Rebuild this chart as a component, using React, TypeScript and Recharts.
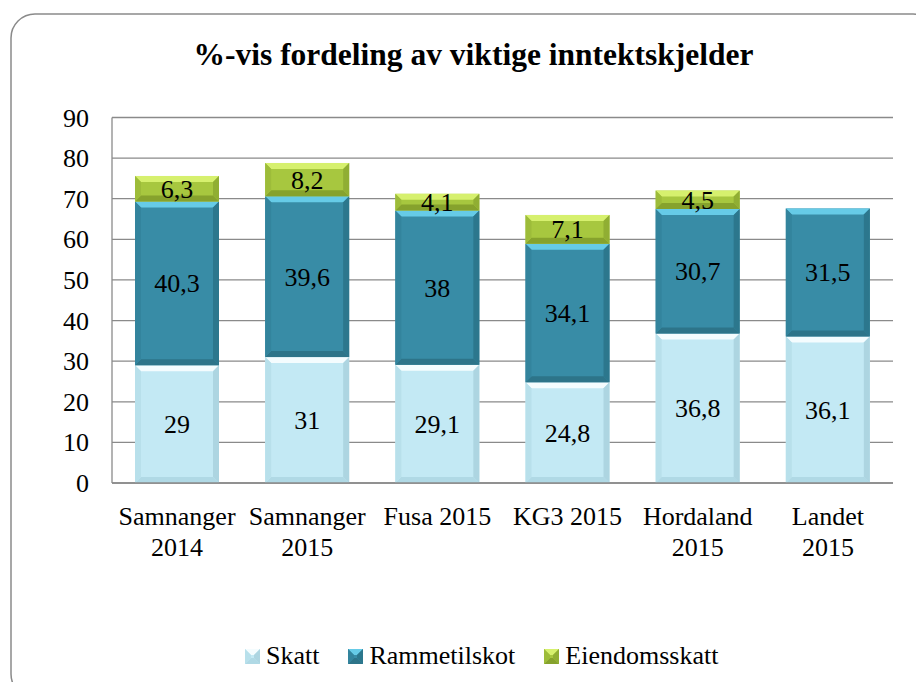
import React from 'react';
import { BarChart, Bar, XAxis, YAxis, CartesianGrid, LabelList } from 'recharts';

const categories = ['Samnanger 2014', 'Samnanger 2015', 'Fusa 2015', 'KG3 2015', 'Hordaland 2015', 'Landet 2015'];
const skatt = [29, 31, 29.1, 24.8, 36.8, 36.1];
const rammetilskot = [40.3, 39.6, 38, 34.1, 30.7, 31.5];
const eiendomsskatt: (number | null)[] = [6.3, 8.2, 4.1, 7.1, 4.5, null];
const yTicks = [0, 10, 20, 30, 40, 50, 60, 70, 80, 90];
const title = '%-vis fordeling av viktige inntektskjelder';

const data = categories.map((c, i) => ({
  name: c,
  skatt: skatt[i],
  rammetilskot: rammetilskot[i],
  eiendomsskatt: eiendomsskatt[i],
}));

type Pal = { base: string; top: string; bottom: string; left: string; right: string };
const series: { key: string; label: string; pal: Pal }[] = [
  { key: 'skatt', label: 'Skatt', pal: { base: '#C3E9F4', top: '#F4FCFE', bottom: '#B0D9E5', left: '#B8E0EB', right: '#ADD5E1' } },
  { key: 'rammetilskot', label: 'Rammetilskot', pal: { base: '#388CA6', top: '#66CBE7', bottom: '#2D7489', left: '#33849D', right: '#2C778D' } },
  { key: 'eiendomsskatt', label: 'Eiendomsskatt', pal: { base: '#A7C73F', top: '#D6F06E', bottom: '#86A22D', left: '#9DBC3A', right: '#90AE33' } },
];

const FONT = '"Liberation Serif", "Times New Roman", serif';

const BevelRect = ({ x, y, width, height, pal }: any) => {
  if (!height || height <= 0 || !width) return null;
  const b = Math.min(6, height / 2, width / 2);
  const x2 = x + width;
  const y2 = y + height;
  return (
    <g>
      <rect x={x} y={y} width={width} height={height} fill={pal.base} />
      <polygon points={`${x},${y} ${x2},${y} ${x2 - b},${y + b} ${x + b},${y + b}`} fill={pal.top} />
      <polygon points={`${x},${y2} ${x2},${y2} ${x2 - b},${y2 - b} ${x + b},${y2 - b}`} fill={pal.bottom} />
      <polygon points={`${x},${y} ${x + b},${y + b} ${x + b},${y2 - b} ${x},${y2}`} fill={pal.left} />
      <polygon points={`${x2},${y} ${x2 - b},${y + b} ${x2 - b},${y2 - b} ${x2},${y2}`} fill={pal.right} />
    </g>
  );
};

const fmt = (v: any) => (v === null || v === undefined ? '' : String(v).replace('.', ','));

const XTick = ({ x, y, payload }: any) => {
  const label: string = payload.value;
  const lines = label.length > 10 ? label.split(' ') : [label];
  return (
    <text x={x} y={y} textAnchor="middle" fontFamily={FONT} fontSize={26} fill="#000">
      {lines.map((l, i) => (
        <tspan key={i} x={x} y={y + 42 + i * 31}>
          {l}
        </tspan>
      ))}
    </text>
  );
};

const YTick = ({ x, y, payload }: any) => (
  <text x={x} y={y + 9} textAnchor="end" fontFamily={FONT} fontSize={26} fill="#000">
    {payload.value}
  </text>
);

const SegLabel = ({ x, y, width, height, value }: any) => {
  const t = fmt(value);
  if (!t) return null;
  return (
    <text x={x + width / 2} y={y + height / 2 + 9} textAnchor="middle" fontFamily={FONT} fontSize={26} fill="#000">
      {t}
    </text>
  );
};

const LegendIcon = ({ pal }: { pal: Pal }) => (
  <svg width={15} height={15} style={{ display: 'block' }}>
    <BevelRect x={0} y={0} width={15} height={15} pal={pal} />
  </svg>
);

export default function App() {
  return (
    <div style={{ position: 'relative', margin: -8, width: 924, height: 690, overflow: 'hidden', background: '#fff' }}>
      <svg width={924} height={690} style={{ position: 'absolute', left: 0, top: 0 }}>
        <rect x={11} y={14} width={926} height={684} rx={24} ry={24} fill="#fff" stroke="#8a8a8a" strokeWidth={1.5} />
        <text x={473.5} y={65} textAnchor="middle" fontFamily={FONT} fontWeight="bold" fontSize={31.5} fill="#000">
          {title}
        </text>
      </svg>
      <div style={{ position: 'absolute', left: 0, top: 0 }}>
        <BarChart
          width={924}
          height={690}
          data={data}
          margin={{ top: 117.5, right: 31, bottom: 177, left: 50 }}
          barSize={84}
        >
          <CartesianGrid vertical={false} stroke="#8a8a8a" strokeWidth={1.3} />
          <XAxis
            dataKey="name"
            height={30}
            tickLine={false}
            axisLine={{ stroke: '#8a8a8a', strokeWidth: 1.3 }}
            tick={<XTick />}
            tickSize={0}
            tickMargin={0}
            interval={0}
          />
          <YAxis
            domain={[0, 90]}
            ticks={yTicks}
            width={62}
            tickLine={false}
            tickSize={0}
            tickMargin={23}
            axisLine={{ stroke: '#8a8a8a', strokeWidth: 1.3 }}
            tick={<YTick />}
            interval={0}
          />
          {series.map((s) => (
            <Bar
              key={s.key}
              dataKey={s.key}
              stackId="a"
              isAnimationActive={false}
              fill={s.pal.base}
              shape={(p: any) => <BevelRect {...p} pal={s.pal} />}
            >
              <LabelList dataKey={s.key} content={<SegLabel />} />
            </Bar>
          ))}
        </BarChart>
      </div>
      <div
        style={{
          position: 'absolute',
          left: 245,
          top: 641,
          display: 'flex',
          alignItems: 'center',
          fontFamily: FONT,
          fontSize: 26,
          lineHeight: '30px',
          color: '#000',
          whiteSpace: 'nowrap',
        }}
      >
        {series.map((s) => (
          <div key={s.key} style={{ display: 'flex', alignItems: 'center', marginRight: 29 }}>
            <LegendIcon pal={s.pal} />
            <span style={{ marginLeft: 6 }}>{s.label}</span>
          </div>
        ))}
      </div>
    </div>
  );
}
